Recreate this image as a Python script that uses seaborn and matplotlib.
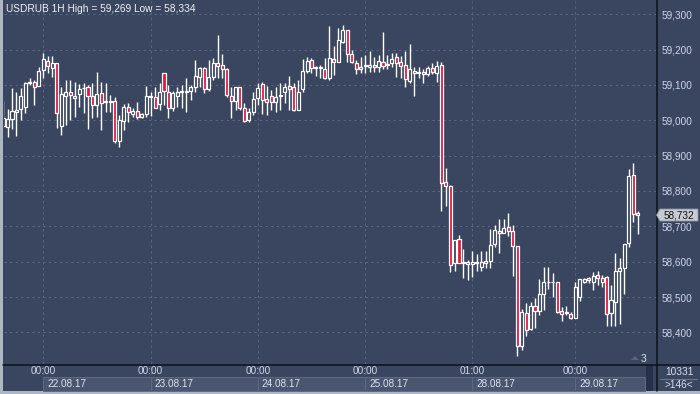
import numpy as np
import pandas as pd
import matplotlib
matplotlib.use("Agg")
import matplotlib.pyplot as plt
import seaborn as sns
from matplotlib.patches import Rectangle, Polygon
from matplotlib.transforms import blended_transform_factory

# ---------------- data ----------------
opens = [58.984, 58.981, 59.004, 59.024, 59.032, 59.038, 59.106, 59.108, 59.097, 59.142,
         59.168, 59.148, 59.162, 58.984, 59.069, 59.080, 59.063, 59.075, 59.091, 59.094,
         59.069, 59.043, 59.077, 59.052, 59.052, 59.055, 58.942, 58.998, 59.038, 59.018,
         59.026, 59.009, 59.018, 59.066, 59.066, 59.046, 59.134, 59.080, 59.035, 59.069,
         59.080, 59.080, 59.083, 59.094, 59.123, 59.148, 59.089, 59.123, 59.162, 59.157,
         59.145, 59.069, 59.055, 59.094, 59.035, 59.001, 59.024, 59.063, 59.103, 59.060,
         59.069, 59.052, 59.069, 59.080, 59.097, 59.094, 59.029, 59.089, 59.140, 59.171,
         59.148, 59.148, 59.145, 59.120, 59.174, 59.165, 59.222, 59.256, 59.188, 59.162,
         59.145, 59.154, 59.151, 59.157, 59.151, 59.165, 59.157, 59.162, 59.179, 59.165,
         59.157, 59.111, 59.140, 59.134, 59.137, 59.131, 59.148, 59.134, 59.157, 58.825,
         58.814, 58.596, 58.664, 58.596, 58.599, 58.593, 58.596, 58.585, 58.596, 58.602,
         58.650, 58.687, 58.681, 58.698, 58.687, 58.644, 58.361, 58.455, 58.409, 58.475,
         58.460, 58.509, 58.542, 58.542, 58.542, 58.460, 58.455, 58.452, 58.441, 58.500,
         58.542, 58.554, 58.542, 58.562, 58.554, 58.557, 58.455, 58.486, 58.574, 58.582,
         58.653, 58.845, 58.738]
highs = [59.055, 59.032, 59.092, 59.080, 59.092, 59.108, 59.120, 59.114, 59.151, 59.191,
         59.182, 59.182, 59.162, 59.094, 59.114, 59.114, 59.108, 59.103, 59.106, 59.100,
         59.106, 59.137, 59.108, 59.106, 59.072, 59.066, 59.015, 59.046, 59.049, 59.035,
         59.052, 59.021, 59.097, 59.080, 59.094, 59.106, 59.134, 59.100, 59.083, 59.094,
         59.100, 59.120, 59.100, 59.171, 59.151, 59.151, 59.171, 59.176, 59.241, 59.188,
         59.148, 59.094, 59.094, 59.094, 59.049, 59.035, 59.080, 59.106, 59.108, 59.097,
         59.086, 59.094, 59.106, 59.106, 59.125, 59.106, 59.114, 59.174, 59.179, 59.176,
         59.154, 59.157, 59.176, 59.266, 59.210, 59.261, 59.269, 59.256, 59.199, 59.171,
         59.179, 59.185, 59.196, 59.179, 59.185, 59.250, 59.185, 59.191, 59.191, 59.182,
         59.196, 59.216, 59.151, 59.151, 59.145, 59.154, 59.162, 59.168, 59.165, 58.865,
         58.817, 58.661, 58.675, 58.636, 58.605, 58.630, 58.622, 58.630, 58.630, 58.692,
         58.704, 58.721, 58.721, 58.738, 58.704, 58.644, 58.466, 58.483, 58.486, 58.497,
         58.551, 58.585, 58.585, 58.568, 58.542, 58.472, 58.475, 58.458, 58.542, 58.551,
         58.554, 58.557, 58.571, 58.574, 58.562, 58.559, 58.534, 58.625, 58.610, 58.650,
         58.862, 58.879, 58.743]
lows = [58.981, 58.953, 58.975, 58.956, 59.001, 59.021, 59.100, 59.043, 59.097, 59.120,
        59.134, 59.123, 58.978, 58.958, 58.987, 59.001, 59.009, 59.038, 59.021, 58.975,
        59.007, 59.009, 58.973, 59.024, 59.024, 58.936, 58.925, 58.973, 58.995, 59.009,
        59.004, 59.007, 59.009, 59.012, 59.035, 59.029, 59.043, 59.007, 59.026, 59.038,
        59.035, 59.024, 59.058, 59.080, 59.094, 59.077, 59.083, 59.114, 59.120, 59.120,
        59.066, 59.007, 59.029, 59.029, 58.995, 58.995, 59.015, 59.043, 59.018, 59.015,
        59.029, 59.024, 59.029, 59.049, 59.029, 59.026, 59.029, 59.080, 59.134, 59.134,
        59.125, 59.120, 59.117, 59.114, 59.128, 59.165, 59.219, 59.165, 59.162, 59.131,
        59.134, 59.134, 59.137, 59.137, 59.137, 59.145, 59.145, 59.151, 59.123, 59.120,
        59.094, 59.106, 59.069, 59.120, 59.106, 59.125, 59.131, 59.108, 58.743, 58.758,
        58.571, 58.574, 58.596, 58.554, 58.548, 58.557, 58.574, 58.574, 58.582, 58.582,
        58.641, 58.625, 58.681, 58.673, 58.559, 58.334, 58.350, 58.390, 58.407, 58.412,
        58.449, 58.463, 58.523, 58.500, 58.455, 58.432, 58.449, 58.438, 58.441, 58.489,
        58.540, 58.540, 58.520, 58.534, 58.528, 58.418, 58.418, 58.418, 58.424, 58.509,
        58.641, 58.712, 58.678]
closes = [59.007, 59.004, 59.026, 59.029, 59.069, 59.106, 59.108, 59.094, 59.140, 59.174,
          59.154, 59.162, 59.021, 59.075, 59.080, 59.072, 59.069, 59.089, 59.092, 59.069,
          59.043, 59.075, 59.049, 59.052, 59.052, 58.942, 59.001, 59.038, 59.024, 59.026,
          59.009, 59.018, 59.069, 59.066, 59.035, 59.080, 59.083, 59.035, 59.077, 59.080,
          59.080, 59.080, 59.094, 59.125, 59.148, 59.089, 59.123, 59.162, 59.154, 59.145,
          59.072, 59.055, 59.094, 59.035, 58.998, 59.024, 59.060, 59.092, 59.058, 59.052,
          59.052, 59.066, 59.069, 59.094, 59.089, 59.029, 59.080, 59.140, 59.168, 59.148,
          59.148, 59.148, 59.120, 59.176, 59.165, 59.227, 59.256, 59.188, 59.165, 59.145,
          59.151, 59.154, 59.157, 59.151, 59.168, 59.154, 59.157, 59.174, 59.162, 59.154,
          59.117, 59.145, 59.134, 59.134, 59.131, 59.148, 59.137, 59.154, 58.823, 58.814,
          58.591, 58.661, 58.596, 58.596, 58.593, 58.599, 58.599, 58.599, 58.602, 58.647,
          58.690, 58.681, 58.695, 58.687, 58.644, 58.361, 58.458, 58.407, 58.475, 58.460,
          58.509, 58.542, 58.542, 58.542, 58.458, 58.452, 58.455, 58.441, 58.528, 58.551,
          58.551, 58.548, 58.559, 58.554, 58.542, 58.452, 58.492, 58.574, 58.582, 58.650,
          58.842, 58.735, 58.732]

price_ticks = [58.4, 58.5, 58.6, 58.7, 58.8, 58.9, 59.0, 59.1, 59.2, 59.3]
day_bar_index = [9, 33, 57, 81, 105, 128]
day_times = ["00:00", "00:00", "00:00", "00:00", "01:00", "00:00"]
day_dates = ["22.08.17", "23.08.17", "24.08.17", "25.08.17", "28.08.17", "29.08.17"]
title_text = "USDRUB 1H High = 59,269 Low = 58,334"
last_price = 58.732
bars_count_text = "10331"
visible_text = ">146<"
corner_text = "3"

# ---------------- styling ----------------
sns.set_style("dark")
plt.rcParams['font.family'] = ['Liberation Sans', 'DejaVu Sans']

W, H = 700, 394
fig = plt.figure(figsize=(7, 3.94), dpi=100)
fig.patch.set_facecolor('#3a4660')

# background canvas in pixel coords
bg = fig.add_axes([0, 0, 1, 1], zorder=0)
bg.set_xlim(0, W)
bg.set_ylim(H, 0)
bg.axis('off')
bg.add_patch(Rectangle((0, 0), W, H, color='#3a4660', lw=0))
grad = np.linspace(0, 1, 256)[:, None]
top = np.array([0x40, 0x4e, 0x69]) / 255
bot = np.array([0x2b, 0x35, 0x51]) / 255
img = top[None, None, :] * (1 - grad[:, :, None]) + bot[None, None, :] * grad[:, :, None]
img = np.repeat(img, 2, axis=1)
bg.imshow(img, extent=[0, W, 364, 0], aspect='auto', interpolation='bilinear', zorder=0)
# borders
bg.add_patch(Rectangle((0, 0), 3, H, color='#aeb6c4', lw=0, zorder=5))
bg.add_patch(Rectangle((0, 391), W, 3, color='#aeb6c4', lw=0, zorder=5))
bg.plot([656.5, 656.5], [0, 391], color='#0c111c', lw=1.1, zorder=6)
bg.plot([3, W], [364.5, 364.5], color='#0c111c', lw=1.1, zorder=6)
# scroll area and right-bottom info
bg.add_patch(Rectangle((646, 365), 6.5, 26, color='#27304a', lw=0, zorder=4))
bg.plot([660, 697], [378.5, 378.5], color='#6c7792', lw=0.8, zorder=6)
bg.text(679, 372, bars_count_text, color='#d6dcea', fontsize=7.3, ha='center', va='center', zorder=7)
bg.text(679, 385, visible_text, color='#d6dcea', fontsize=7.3, ha='center', va='center', zorder=7)
bg.add_patch(Polygon([[631, 360], [635, 356], [639, 360]], closed=True, color='#5a6680', lw=0, zorder=7))
bg.text(643, 358.5, corner_text, color='#dfe5ef', fontsize=7.3, ha='center', va='center', zorder=7)

# main price axes
ax = fig.add_axes([4 / W, (H - 364) / H, (656 - 4) / W, 363 / H], zorder=2)
ax.patch.set_alpha(0)
x0, x1 = 0.21, 146.07
ax.set_xlim(x0, x1)
ax.set_ylim(58.3104, 59.3377)
for s in ax.spines.values():
    s.set_visible(False)
ax.grid(False)

# dashed grid
for p in price_ticks:
    ax.axhline(p, color='#5b6782', lw=0.8, dashes=(2, 3), zorder=1)
for d in day_bar_index:
    ax.axvline(d, color='#5b6782', lw=0.8, dashes=(2, 3), zorder=1)

df = pd.DataFrame({'open': opens, 'high': highs, 'low': lows, 'close': closes})
df['idx'] = np.arange(len(df))
df['bull'] = df['close'] >= df['open']
df['body_low'] = df[['open', 'close']].min(axis=1)
df['body_h'] = (df['close'] - df['open']).abs().clip(lower=0.0018)

ax.vlines(df['idx'], df['low'], df['high'], color='white', lw=1.0, zorder=3)
b = df[df['bull']]
r = df[~df['bull']]
ax.bar(b['idx'], b['body_h'], bottom=b['body_low'], width=0.68,
       facecolor='#34405b', edgecolor='white', lw=0.9, zorder=4)
ax.bar(r['idx'], r['body_h'], bottom=r['body_low'], width=0.68,
       facecolor='#e2143d', edgecolor='white', lw=0.9, zorder=4)

# right price labels
ax.yaxis.tick_right()
ax.set_yticks(price_ticks)
ax.set_yticklabels([f"{p:.3f}".replace('.', ',') for p in price_ticks])
ax.tick_params(axis='y', length=0, pad=4, labelsize=7.2, labelcolor='#cdd6e8')
ax.set_xticks([])

# title
ax.text(1.5 / 652, 1 - 8 / 363, title_text, transform=ax.transAxes, color='#eef1f7',
        fontsize=7.3, ha='left', va='center', zorder=6)

# last price tag
tr = blended_transform_factory(ax.transAxes, ax.transData)
hh = 6 / 353.3
px = 1 / 652
tag = Polygon([[1 + 0.5 * px, last_price], [1 + 4 * px, last_price + hh], [1 + 42 * px, last_price + hh],
               [1 + 42 * px, last_price - hh], [1 + 4 * px, last_price - hh]],
              closed=True, transform=tr, facecolor='#c6cbd4', edgecolor='#8d94a3', lw=0.6,
              clip_on=False, zorder=8)
ax.add_patch(tag)
ax.text(1 + 23 * px, last_price, f"{last_price:.3f}".replace('.', ','), transform=tr,
        color='#111111', fontsize=7.2, ha='center', va='center', clip_on=False, zorder=9)

# bottom time axis
trx = blended_transform_factory(ax.transData, fig.transFigure)
box_ends = day_bar_index[1:] + [143.7]
for d, e, t, dt in zip(day_bar_index, box_ends, day_times, day_dates):
    ax.add_patch(Rectangle((d, (H - 391) / H), e - d, 14 / H, transform=trx, facecolor='#4a5670',
                           edgecolor='#5f6b85', lw=0.7, clip_on=False, zorder=5))
    ax.plot([d, d], [(H - 391) / H, (H - 365) / H], transform=trx, color='#5b6782', lw=0.8,
            dashes=(2, 3), clip_on=False, zorder=5)
    ax.text(d, (H - 371.5) / H, t, transform=trx, color='#cdd6e8', fontsize=7.2,
            ha='center', va='center', clip_on=False, zorder=6)
    ax.text(d + 0.9, (H - 384) / H, dt, transform=trx, color='#dde3ee', fontsize=7.2,
            ha='left', va='center', clip_on=False, zorder=6)

fig.savefig('out.png', dpi=100, facecolor=fig.get_facecolor())
